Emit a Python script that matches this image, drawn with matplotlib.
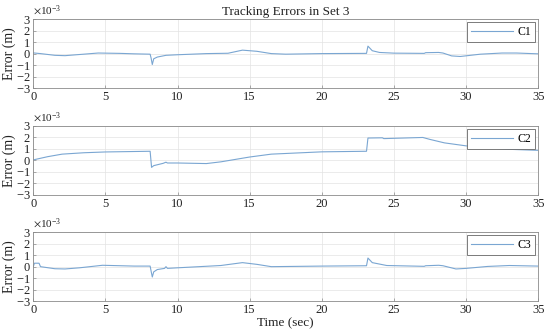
import matplotlib
matplotlib.use("Agg")
import matplotlib.pyplot as plt
import numpy as np

# Data (values in units of 1e-3 m), breakpoints
t1 = [0, 0.5, 1.5, 2.2, 3.2, 4.5, 6, 7, 8.1, 8.17, 8.25, 8.35, 8.6, 9.0, 9.2, 10, 12, 13.5, 14.5, 15.5, 16.5, 17.5, 20, 23.1, 23.2, 23.5, 24, 25, 27.1, 27.2, 28.1, 28.4, 29, 29.6, 30.3, 31, 32.5, 33.5, 35]
c1 = [0.06, 0.0, -0.15, -0.18, -0.08, 0.05, 0.02, -0.02, -0.05, -0.4, -0.95, -0.45, -0.3, -0.2, -0.15, -0.1, 0.0, 0.03, 0.3, 0.2, 0.0, -0.05, 0.0, 0.02, 0.65, 0.25, 0.1, 0.04, 0.02, 0.08, 0.1, 0.05, -0.2, -0.25, -0.15, -0.05, 0.05, 0.05, -0.02]

t2 = [0, 1, 2, 3.5, 5, 8.1, 8.2, 8.35, 9.0, 9.2, 9.3, 10, 12, 13, 15, 16.5, 20, 23.1, 23.2, 24.2, 24.3, 27, 27.5, 28.5, 30, 31.5, 33, 35]
c2 = [0.05, 0.33, 0.55, 0.67, 0.74, 0.8, -0.6, -0.45, -0.25, -0.15, -0.22, -0.22, -0.27, -0.12, 0.3, 0.55, 0.75, 0.8, 1.95, 1.97, 1.9, 2.0, 1.83, 1.53, 1.27, 1.1, 0.97, 0.88]

t3 = [0, 0.08, 0.4, 0.5, 1.5, 2.2, 3.2, 4.8, 7, 8.1, 8.17, 8.25, 8.35, 8.6, 9.1, 9.2, 9.3, 10, 13, 14.5, 15.5, 16.5, 20, 23.1, 23.2, 23.5, 24.5, 27.1, 27.2, 28.1, 28.4, 29.3, 30, 31.5, 33, 35]
c3 = [0.0, 0.3, 0.3, 0.0, -0.18, -0.2, -0.1, 0.12, 0.05, 0.05, -0.4, -0.9, -0.45, -0.25, -0.15, 0.0, -0.15, -0.1, 0.1, 0.35, 0.2, 0.0, 0.05, 0.08, 0.75, 0.35, 0.1, 0.03, 0.08, 0.12, 0.08, -0.2, -0.15, 0.02, 0.1, 0.05]

series = [(t1, c1, "C1"), (t2, c2, "C2"), (t3, c3, "C3")]
yticks = [-3, -2, -1, 0, 1, 2, 3]
xticks = [0, 5, 10, 15, 20, 25, 30, 35]

plt.rcParams['font.family'] = ['Liberation Serif', 'DejaVu Serif']
plt.rcParams['mathtext.fontset'] = 'stix'
plt.rcParams['axes.unicode_minus'] = False

fig = plt.figure(figsize=(5.5, 3.35), dpi=100)
left, width = 0.0605, 0.918
bottoms = [0.737, 0.418, 0.101]
height = 0.206
line_color = '#7aa6d2'
spine_color = '#8a8a8a'

for i, (t, c, name) in enumerate(series):
    ax = fig.add_axes([left, bottoms[i], width, height])
    ax.plot(np.array(t), np.array(c) * 1e-3, color=line_color, lw=0.8, label=name)
    ax.set_xlim(0, 35)
    ax.set_ylim(-3e-3, 3e-3)
    ax.set_xticks(xticks)
    ax.set_yticks([v * 1e-3 for v in yticks])
    ax.ticklabel_format(axis='y', style='sci', scilimits=(-3, -3), useMathText=True)
    ax.yaxis.get_offset_text().set_fontsize(8)
    ax.yaxis.get_offset_text().set_color('#333333')
    ax.tick_params(direction='in', length=2.5, width=0.5, colors=spine_color,
                   labelcolor='#222222', labelsize=9, pad=2)
    ax.grid(True, color='#e3e3e3', lw=0.5)
    for s in ax.spines.values():
        s.set_color(spine_color)
        s.set_linewidth(0.6)
    ax.set_ylabel("Error (m)", fontsize=10, labelpad=0, color='#222222')
    leg = ax.legend(loc='upper right', fontsize=8.5, handlelength=3.6, fancybox=False,
                    framealpha=1, edgecolor='#666666', borderaxespad=0.25,
                    borderpad=0.35, handletextpad=0.35)
    leg.get_frame().set_linewidth(0.6)
    if i == 0:
        ax.set_title("Tracking Errors in Set 3", fontsize=9.5, pad=3, color='#222222')
    if i == 2:
        ax.set_xlabel("Time (sec)", fontsize=9.5, labelpad=1, color='#222222')

fig.savefig("out.png", dpi=100)
